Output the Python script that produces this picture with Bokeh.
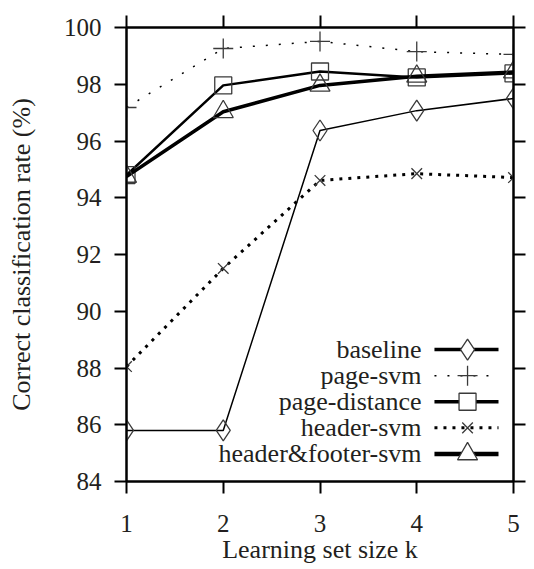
from bokeh.plotting import figure
from bokeh.models import LinearAxis, FixedTicker, Label, Range1d
from bokeh.embed import file_html
from bokeh.resources import INLINE

# ---- data ----
k = [1, 2, 3, 4, 5]
baseline = [85.8, 85.8, 96.37, 97.07, 97.5]
page_svm = [97.18, 99.26, 99.51, 99.15, 99.05]
page_distance = [94.8, 97.96, 98.45, 98.24, 98.38]
header_svm = [88.05, 91.51, 94.61, 94.85, 94.71]
header_footer_svm = [94.75, 97.03, 97.96, 98.28, 98.43]
series_names = ["baseline", "page-svm", "page-distance", "header-svm", "header&footer-svm"]
x_ticks = [1, 2, 3, 4, 5]
y_ticks = [84, 86, 88, 90, 92, 94, 96, 98, 100]

FONT = "'Liberation Serif', 'Times New Roman', serif"
FS_TICK = "25px"
FS = "26px"
TXT = "#231f20"
MK = "#3a3a3a"

p = figure(frame_width=387, frame_height=454,
           min_border_left=126, min_border_top=27, min_border_right=15, min_border_bottom=80,
           x_range=Range1d(1, 5), y_range=Range1d(84, 100),
           output_backend="svg", toolbar_location=None, background_fill_color="white")
p.grid.visible = False
p.outline_line_color = "black"
p.outline_line_width = 2


def style_axis(ax, labels=True):
    ax.axis_line_color = "black"
    ax.axis_line_width = 2
    ax.major_tick_line_color = "black"
    ax.major_tick_line_width = 2
    ax.major_tick_in = 0
    ax.major_tick_out = 12
    ax.minor_tick_line_color = None
    ax.major_label_text_font = FONT
    ax.major_label_text_font_size = FS_TICK
    ax.major_label_text_color = TXT
    if not labels:
        ax.major_label_text_font_size = "0px"
        ax.major_label_text_color = None
        ax.major_label_standoff = 0


p.xaxis.ticker = FixedTicker(ticks=x_ticks)
p.yaxis.ticker = FixedTicker(ticks=y_ticks)
style_axis(p.xaxis[0])
style_axis(p.yaxis[0])
p.xaxis.major_label_standoff = 21
p.yaxis.major_label_standoff = 13

p.xaxis.axis_label = "Learning set size k"
p.xaxis.axis_label_text_font = FONT
p.xaxis.axis_label_text_font_style = "normal"
p.xaxis.axis_label_text_font_size = FS
p.xaxis.axis_label_text_color = TXT
p.xaxis.axis_label_standoff = 0

p.yaxis.axis_label = "Correct classification rate (%)"
p.yaxis.axis_label_text_font = FONT
p.yaxis.axis_label_text_font_style = "normal"
p.yaxis.axis_label_text_font_size = FS
p.yaxis.axis_label_text_color = TXT
p.yaxis.axis_label_standoff = 25

top = LinearAxis(ticker=FixedTicker(ticks=x_ticks))
style_axis(top, labels=False)
p.add_layout(top, "above")
right = LinearAxis(ticker=FixedTicker(ticks=y_ticks))
style_axis(right, labels=False)
p.add_layout(right, "right")

# ---- series ----
series = [
    dict(y=baseline, marker="diamond", size=21, lw=1.5, dash="solid", leg_lw=3.5),
    dict(y=page_svm, marker="cross", size=20, lw=1.5, dash="2 11", leg_lw=1.5),
    dict(y=page_distance, marker="square", size=17, lw=2.5, dash="solid", leg_lw=3.5),
    dict(y=header_svm, marker="x", size=15, lw=3, dash="3 6", leg_lw=3),
    dict(y=header_footer_svm, marker="triangle", size=20, lw=3.5, dash="solid", leg_lw=4.5),
]

for s in series:
    p.line(k, s["y"], line_color="black", line_width=s["lw"], line_dash=s["dash"])
    p.scatter(k, s["y"], marker=s["marker"], size=s["size"], fill_color=None,
              line_color=MK, line_width=1.3)

# ---- legend (gnuplot style: label then sample) ----
leg_y0 = 88.65
leg_step = 0.92
leg_text_x = 4.05
leg_x0, leg_x1, leg_xm = 4.183, 4.845, 4.525
for i, (name, s) in enumerate(zip(series_names, series)):
    yy = leg_y0 - i * leg_step
    p.add_layout(Label(x=leg_text_x, y=yy, text=name, text_align="right",
                       text_baseline="middle", text_font=FONT,
                       text_font_size=FS, text_color=TXT))
    p.segment(x0=[leg_x0], y0=[yy], x1=[leg_x1], y1=[yy], line_color="black",
              line_width=s["leg_lw"], line_dash=s["dash"])
    p.scatter([leg_xm], [yy], marker=s["marker"], size=s["size"],
              fill_color="white" if s["marker"] in ("diamond", "square", "triangle") else None,
              line_color=MK, line_width=1.3)

open("out.html", "w").write(file_html(p, INLINE))
